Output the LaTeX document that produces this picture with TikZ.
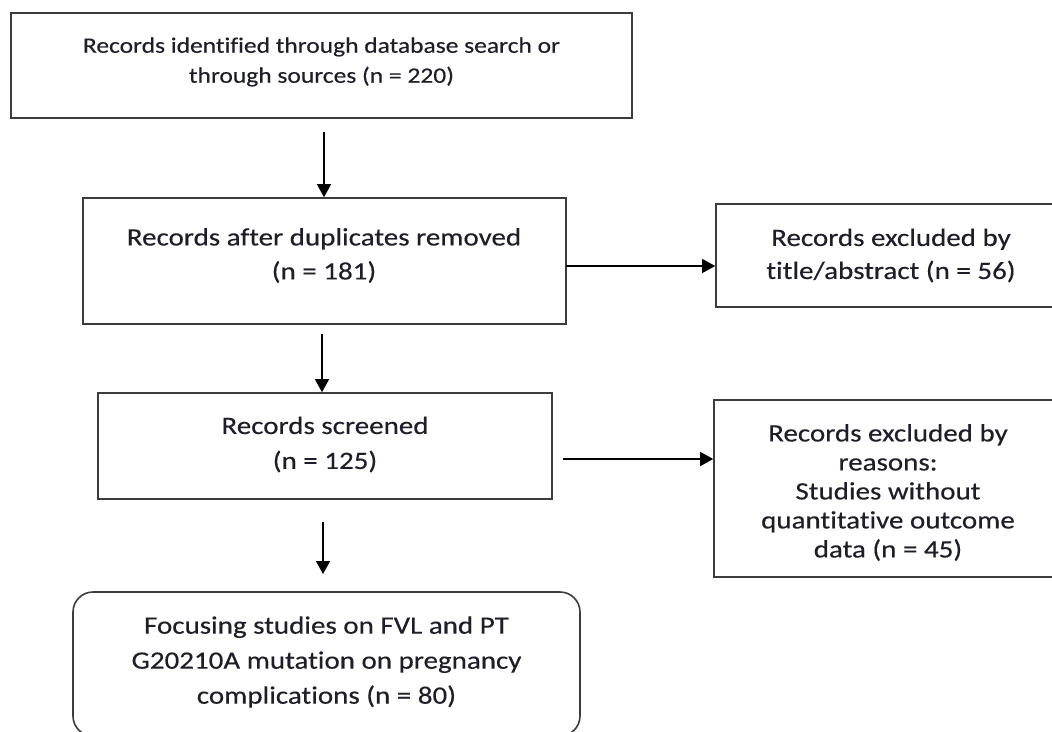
\documentclass[tikz,border=0pt]{standalone}
\usepackage{fontspec}
\setmainfont{Carlito}
\newfontfamily\wideA[FakeStretch=1.16,FakeBold=0.3,Ligatures=NoCommon]{Carlito}
\newfontfamily\wideB[FakeStretch=1.16,FakeBold=0.3,Ligatures=NoCommon]{Carlito}
\usetikzlibrary{arrows.meta}
\definecolor{boxline}{HTML}{3C3C3C}
\definecolor{txt}{HTML}{1E1E2A}
\tikzset{
  box/.style={draw=boxline, line width=1.6pt, inner sep=0pt},
  lbl/.style={align=center, inner sep=0pt, text=txt},
  arr/.style={line width=1.4pt, -{Triangle[length=13pt,width=14pt]}},
}
\begin{document}
\begin{tikzpicture}[x=1pt,y=-1pt]
\useasboundingbox (0,0) rectangle (1052,731);
\fill[white] (0,0) rectangle (1052,731);
% boxes
\node[box, minimum width=621pt, minimum height=105pt] (b1) at (321.5,65.5) {};
\node[box, minimum width=483pt, minimum height=126pt] (b2) at (324.5,261) {};
\node[box, minimum width=454pt, minimum height=106pt] (b3) at (325,446) {};
\node[box, rounded corners=20pt, minimum width=507pt, minimum height=144pt] (b4) at (326.5,664) {};
\node[box, minimum width=350pt, minimum height=103pt] (r1) at (891,255.5) {};
\node[box, minimum width=348pt, minimum height=177pt] (r2) at (888,488.5) {};
% texts
\node[lbl, font=\wideA\fontsize{22}{30}\selectfont] (t1) at (321.5,62) {Records identified through database search or\\through sources (n = 220)};
\node[lbl, font=\wideB\fontsize{25}{34}\selectfont] (t2) at (324,255.5) {Records after duplicates removed\\(n = 181)};
\node[lbl, font=\wideB\fontsize{25}{35}\selectfont] (t3) at (325,444.5) {Records screened\\(n = 125)};
\node[lbl, font=\wideB\fontsize{25}{35}\selectfont] (t4) at (326.5,662) {Focusing studies on FVL and PT\\G20210A mutation on pregnancy\\complications (n = 80)};
\node[lbl, font=\wideB\fontsize{25}{33}\selectfont] (t5) at (891,255.5) {Records excluded by\\title/abstract (n = 56)};
\node[lbl, font=\wideB\fontsize{25}{29}\selectfont] (t6) at (888,492.5) {Records excluded by\\reasons:\\Studies without\\quantitative outcome\\data (n = 45)};
% connectors
\coordinate (s1) at (324,132);
\coordinate (s2) at (322,334);
\coordinate (s3) at (323,522);
\coordinate (e3) at (323,574);
\coordinate (s4) at (566,266);
\coordinate (s5) at (563,459);
\draw[arr] (s1) -- (s1 |- b2.north);
\draw[arr] (s2) -- (s2 |- b3.north);
\draw[arr] (s3) -- (e3);
\draw[arr] (s4) -- (s4 -| r1.west);
\draw[arr] (s5) -- (s5 -| r2.west);
\end{tikzpicture}
\end{document}
